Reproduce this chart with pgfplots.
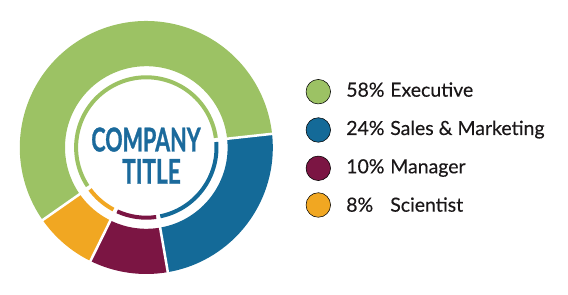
\documentclass[border=0pt]{standalone}
\usepackage{pgfplots}
\pgfplotsset{compat=1.18}
\usepackage{pgfplotstable}
\usepackage{graphicx}
\usepackage{fontspec}
\setmainfont{Lato}
\newfontfamily\legfam[FakeBold=0.35]{Lato}
\newfontfamily\titlefam[FakeBold=1.2]{Lato}
\definecolor{cgreen}{HTML}{9CC264}
\definecolor{cblue}{HTML}{146A98}
\definecolor{cmaroon}{HTML}{7B1543}
\definecolor{corange}{HTML}{F1A722}
\definecolor{ctitle}{HTML}{1B6A9C}
\definecolor{ctext}{HTML}{1A1718}
\colorlet{c0}{cgreen}
\colorlet{c1}{cblue}
\colorlet{c2}{cmaroon}
\colorlet{c3}{corange}

\pgfplotstableread{
pct
58
24
10
8
}\shares

\def\cx{146.3}\def\cy{147.5}
\def\Rout{126.5}\def\Rin{81.3}\def\Tmid{70.2}
\def\startang{215}
\def\cum{0}
\pgfplotsforeachungrouped \i in {0,...,3}{%
  \pgfplotstablegetelem{\i}{pct}\of\shares
  \pgfmathsetmacro{\angtmpA}{\startang-3.6*\cum}%
  \pgfmathsetmacro{\newcum}{\cum+\pgfplotsretval}%
  \pgfmathsetmacro{\angtmpB}{\startang-3.6*\newcum}%
  \expandafter\xdef\csname angA\i\endcsname{\angtmpA}%
  \expandafter\xdef\csname angB\i\endcsname{\angtmpB}%
  \global\let\cum\newcum
}
\newcommand\legfont{\legfam\fontsize{14.6}{17}\selectfont}

\begin{document}
\begin{tikzpicture}
\begin{axis}[
  x=0.75pt, y=0.75pt,
  xmin=0, xmax=568, ymin=0, ymax=295,
  hide axis, clip=false,
]
\addplot[draw=none] coordinates {(0,0) (568,295)};
% outer ring
\pgfplotsinvokeforeach{0,...,3}{
  \fill[c#1] (axis cs:{\cx+\Rout*cos(\csname angA#1\endcsname)},{\cy+\Rout*sin(\csname angA#1\endcsname)})
    arc[start angle=\csname angA#1\endcsname, end angle=\csname angB#1\endcsname, radius=\Rout*0.75pt]
    -- (axis cs:{\cx+\Rin*cos(\csname angB#1\endcsname)},{\cy+\Rin*sin(\csname angB#1\endcsname)})
    arc[start angle=\csname angB#1\endcsname, end angle=\csname angA#1\endcsname, radius=\Rin*0.75pt] -- cycle;
  % thin inner ring
  \draw[c#1, line width=3pt] (axis cs:{\cx+\Tmid*cos(\csname angA#1\endcsname-1.7)},{\cy+\Tmid*sin(\csname angA#1\endcsname-1.7)})
    arc[start angle=\csname angA#1\endcsname-1.7, end angle=\csname angB#1\endcsname+1.7, radius=\Tmid*0.75pt];
}
% white separators
\pgfplotsinvokeforeach{0,...,3}{
  \draw[white, line width=1.9pt] (axis cs:{\cx+(\Rin-2)*cos(\csname angA#1\endcsname)},{\cy+(\Rin-2)*sin(\csname angA#1\endcsname)})
    -- (axis cs:{\cx+(\Rout+2)*cos(\csname angA#1\endcsname)},{\cy+(\Rout+2)*sin(\csname angA#1\endcsname)});
}
% title
\node[anchor=south, inner sep=0, text=ctitle] at (axis cs:146,143) {\resizebox{82pt}{18pt}{\titlefam\bfseries COMPANY}};
\node[anchor=south, inner sep=0, text=ctitle] at (axis cs:151.5,111) {\resizebox{44pt}{18.5pt}{\titlefam\bfseries TITLE}};
% legend markers
\addplot[only marks, mark=*, mark size=9.2pt, mark options={draw=none, fill=cgreen}] coordinates {(318.3,203.3)};
\addplot[only marks, mark=*, mark size=9.2pt, mark options={draw=none, fill=cblue}] coordinates {(318.3,165)};
\addplot[only marks, mark=*, mark size=9.2pt, mark options={draw=none, fill=cmaroon}] coordinates {(318.3,126.7)};
\addplot[only marks, mark=*, mark size=9.2pt, mark options={draw=none, fill=corange}] coordinates {(318.3,90)};
% legend text
\node[anchor=base west, inner sep=0, font=\legfont, text=ctext] at (axis cs:346,198.3) {58\%};
\node[anchor=base west, inner sep=0, font=\legfont, text=ctext] at (axis cs:390,198.3) {Executive};
\node[anchor=base west, inner sep=0, font=\legfont, text=ctext] at (axis cs:346,160) {24\%};
\node[anchor=base west, inner sep=0, font=\legfont, text=ctext] at (axis cs:390,160) {Sales \& Marketing};
\node[anchor=base west, inner sep=0, font=\legfont, text=ctext] at (axis cs:346,121.7) {10\%};
\node[anchor=base west, inner sep=0, font=\legfont, text=ctext] at (axis cs:390,121.7) {Manager};
\node[anchor=base west, inner sep=0, font=\legfont, text=ctext] at (axis cs:346,83.3) {8\%};
\node[anchor=base west, inner sep=0, font=\legfont, text=ctext] at (axis cs:390,83.3) {Scientist};
\end{axis}
\end{tikzpicture}
\end{document}
